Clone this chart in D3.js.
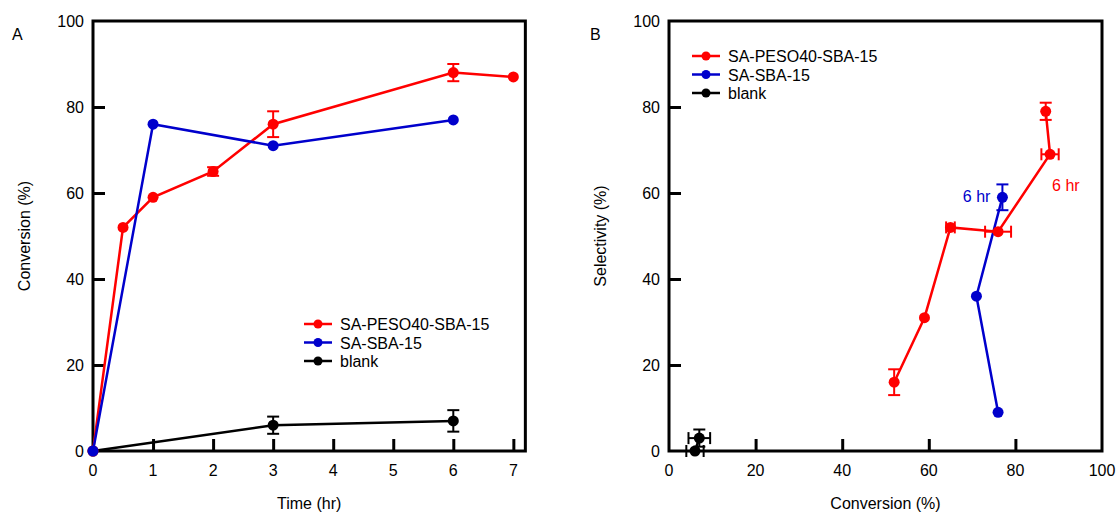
<!DOCTYPE html>
<html><head><meta charset="utf-8">
<script src="https://cdn.jsdelivr.net/npm/d3@7"></script>
<style>
body{margin:0;background:#fff;}
svg text{font-family:"Liberation Sans",Arial,Helvetica,sans-serif;}
</style></head>
<body><svg id="c" width="1116" height="513"></svg>
<script>
// Panel A: conversion vs time
const seriesNames = ["SA-PESO40-SBA-15","SA-SBA-15","blank"];
const seriesColors = ["#ff0000","#0000cc","#000000"];
const timeRed = [0,0.5,1,2,3,6,7];
const convRed = [0,52,59,65,76,88,87];
const convRedErr = [0,0,0,1,3,2,0];
const timeBlue = [0,1,3,6];
const convBlue = [0,76,71,77];
const timeBlack = [0,3,6];
const convBlack = [0,6,7];
const convBlackErr = [0,2,2.5];
const xTicksA = [0,1,2,3,4,5,6,7];
const yTicks = [0,20,40,60,80,100];
// Panel B: selectivity vs conversion
const bConvRed = [52,59,65,76,88,87];
const bConvRedErr = [0,0,1,3,2,0];
const bSelRed = [16,31,52,51,69,79];
const bSelRedErr = [3,0,0,0,0,2];
const bConvBlue = [76,71,77];
const bSelBlue = [9,36,59];
const bSelBlueErr = [0,0,3];
const bConvBlack = [6,7];
const bConvBlackErr = [2,2.5];
const bSelBlack = [0,3];
const bSelBlackErr = [0,2];
const xTicksB = [0,20,40,60,80,100];

const svg = d3.select("#c");
const FS = 16;

function panel(o){
  const g = svg.append("g");
  const x = d3.scaleLinear().domain(o.xdom).range([o.x0,o.x1]);
  const y = d3.scaleLinear().domain([0,100]).range([o.y0,o.y1]);
  // ticks (inward)
  const ax = d3.axisTop(x).tickValues(o.xticks.filter(v=>v>o.xdom[0]&&v<o.xdom[1]-0.01)).tickSize(12).tickFormat("");
  const gx = g.append("g").attr("transform",`translate(0,${o.y0})`).call(ax);
  gx.select(".domain").remove();
  gx.selectAll("line").attr("stroke","#000").attr("stroke-width",3);
  const ay = d3.axisRight(y).tickValues([20,40,60,80]).tickSize(12).tickFormat("");
  const gy = g.append("g").attr("transform",`translate(${o.x0},0)`).call(ay);
  gy.select(".domain").remove();
  gy.selectAll("line").attr("stroke","#000").attr("stroke-width",3);
  // tick labels
  g.selectAll(".xl").data(o.xticks).join("text").attr("x",d=>x(d)).attr("y",o.y0+25)
    .attr("text-anchor","middle").attr("font-size",FS).text(d=>d);
  g.selectAll(".yl").data(yTicks).join("text").attr("x",o.x0-9).attr("y",d=>y(d)+6)
    .attr("text-anchor","end").attr("font-size",FS).text(d=>d);
  // frame
  g.append("rect").attr("x",o.x0).attr("y",o.y1).attr("width",o.x1f-o.x0).attr("height",o.y0-o.y1)
    .attr("fill","none").attr("stroke","#000").attr("stroke-width",3);
  // titles
  g.append("text").attr("x",(o.x0+o.x1f)/2).attr("y",509).attr("text-anchor","middle").attr("font-size",FS).text(o.xtitle);
  g.append("text").attr("transform",`translate(${o.ytx},${(o.y0+o.y1)/2}) rotate(-90)`).attr("text-anchor","middle").attr("font-size",FS).text(o.ytitle);
  g.append("text").attr("x",o.lx).attr("y",40).attr("font-size",FS).text(o.letter);
  return {g,x,y};
}

function drawSeries(p,xs,ys,color,xerr,yerr){
  const pts = xs.map((v,i)=>({x:v,y:ys[i],xe:xerr?xerr[i]:0,ye:yerr?yerr[i]:0}));
  const line = d3.line().x(d=>p.x(d.x)).y(d=>p.y(d.y));
  p.g.append("path").datum(pts).attr("d",line).attr("fill","none").attr("stroke",color).attr("stroke-width",2.5);
  const cap=6;
  pts.forEach(d=>{
    const cx=p.x(d.x), cy=p.y(d.y);
    if(d.ye>0){
      const t=p.y(d.y+d.ye), b=p.y(d.y-d.ye);
      p.g.append("line").attr("x1",cx).attr("x2",cx).attr("y1",t).attr("y2",b).attr("stroke",color).attr("stroke-width",2);
      [t,b].forEach(yy=>p.g.append("line").attr("x1",cx-cap).attr("x2",cx+cap).attr("y1",yy).attr("y2",yy).attr("stroke",color).attr("stroke-width",2));
    }
    if(d.xe>0){
      const l=p.x(d.x-d.xe), r=p.x(d.x+d.xe);
      p.g.append("line").attr("x1",l).attr("x2",r).attr("y1",cy).attr("y2",cy).attr("stroke",color).attr("stroke-width",2);
      [l,r].forEach(xx=>p.g.append("line").attr("x1",xx).attr("x2",xx).attr("y1",cy-cap).attr("y2",cy+cap).attr("stroke",color).attr("stroke-width",2));
    }
    p.g.append("circle").attr("cx",cx).attr("cy",cy).attr("r",5.5).attr("fill",color);
  });
}

function legend(p,lx,ly){
  seriesNames.forEach((n,i)=>{
    const yy=ly+i*18.5;
    p.g.append("line").attr("x1",lx).attr("x2",lx+28).attr("y1",yy).attr("y2",yy).attr("stroke",seriesColors[i]).attr("stroke-width",2.5);
    p.g.append("circle").attr("cx",lx+14).attr("cy",yy).attr("r",4.5).attr("fill",seriesColors[i]);
    p.g.append("text").attr("x",lx+36).attr("y",yy+6).attr("font-size",FS).text(n);
  });
}

const A = panel({xdom:[0,7.2],x0:93,x1:93+7.2*60.05,x1f:93+7.2*60.05,y0:451,y1:21,xticks:xTicksA,
  xtitle:"Time (hr)",ytitle:"Conversion (%)",ytx:30,lx:12,letter:"A"});
drawSeries(A,timeBlack,convBlack,seriesColors[2],null,convBlackErr);
drawSeries(A,timeRed,convRed,seriesColors[0],null,convRedErr);
drawSeries(A,timeBlue,convBlue,seriesColors[1],null,null);
legend(A,304,324);

const B = panel({xdom:[0,100],x0:669,x1:1102,x1f:1102,y0:451,y1:21,xticks:xTicksB,
  xtitle:"Conversion (%)",ytitle:"Selectivity (%)",ytx:606,lx:590,letter:"B"});
drawSeries(B,bConvBlack,bSelBlack,seriesColors[2],bConvBlackErr,bSelBlackErr);
drawSeries(B,bConvBlue,bSelBlue,seriesColors[1],null,bSelBlueErr);
drawSeries(B,bConvRed,bSelRed,seriesColors[0],bConvRedErr,bSelRedErr);
legend(B,692,56);
B.g.append("text").attr("x",B.x(88)+2).attr("y",B.y(69)+37).attr("font-size",FS).attr("fill",seriesColors[0]).text("6 hr");
B.g.append("text").attr("x",B.x(77)-12).attr("y",B.y(59)+5).attr("text-anchor","end").attr("font-size",FS).attr("fill",seriesColors[1]).text("6 hr");
</script></body></html>
